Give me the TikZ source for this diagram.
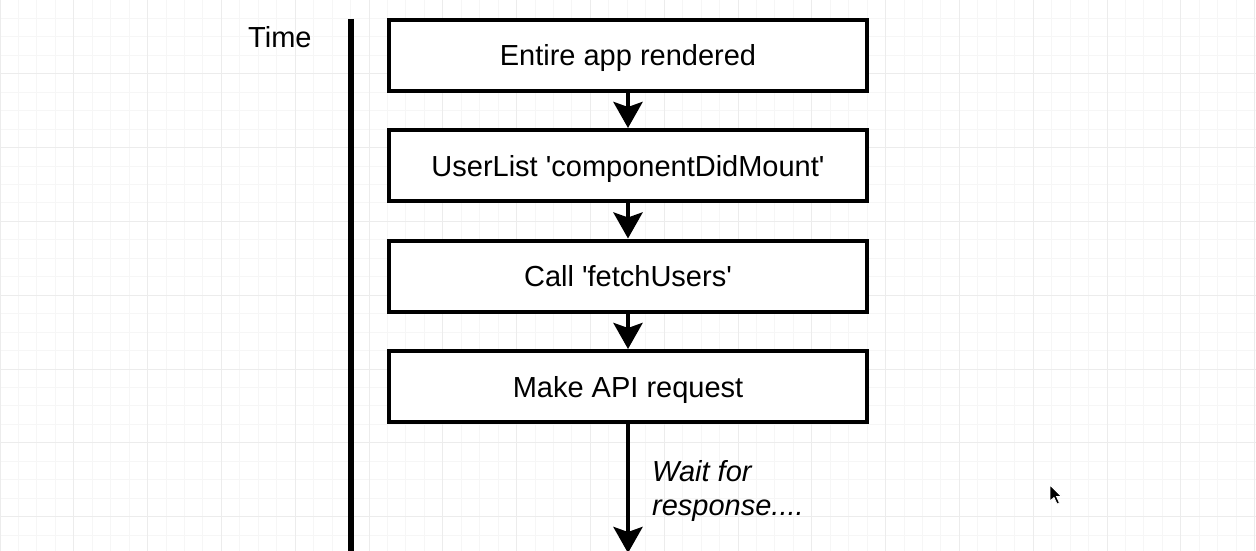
\documentclass[tikz,border=0pt]{standalone}
\usepackage{fontspec}
\setmainfont{Liberation Sans}
\usetikzlibrary{arrows.meta}
\definecolor{gmajor}{HTML}{ECECEC}
\definecolor{gminor}{HTML}{F6F6F6}
\newcommand{\sq}{\textquotesingle}
\tikzset{
  minorline/.style={draw=gminor, line width=1pt},
  majorline/.style={draw=gmajor, line width=1pt},
  stepbox/.style={draw=black, line width=4pt, fill=white, minimum width=478pt, minimum height=71pt, inner sep=0pt, text height=21pt, text depth=0pt, font=\fontsize{29}{34}\selectfont},
  flowarrow/.style={draw=black, line width=4.5pt, -{Stealth[length=26pt, width=29pt, inset=5pt]}},
  label29/.style={inner sep=0pt, font=\fontsize{29}{34}\selectfont},
}
\begin{document}
\begin{tikzpicture}[x=1pt, y=-1pt]
\useasboundingbox (0,0) rectangle (1256,551);
\fill[white] (0,0) rectangle (1256,551);
% grid
\foreach \i in {0,...,68} {\draw[minorline] ({\i*18.45},0) -- ({\i*18.45},551);}
\foreach \j in {0,...,29} {\draw[minorline] (0,{\j*18.45}) -- (1256,{\j*18.45});}
\foreach \i in {0,...,17} {\draw[majorline] ({\i*73.8},0) -- ({\i*73.8},551);}
\foreach \j in {0,...,7} {\draw[majorline] (0,{\j*73.8}) -- (1256,{\j*73.8});}
% time axis
\coordinate (axtop) at (351,19);
\coordinate (axbot) at (351,551);
\draw[line width=6pt] (axtop) -- (axbot);
\node[label29, anchor=base west] (time) at (248,48) {Time};
% boxes
\node[stepbox] (b1) at (628,55.5) {Entire app rendered};
\node[stepbox] (b2) at (628,165.5) {UserList \sq componentDidMount\sq};
\node[stepbox] (b3) at (628,276) {Call \sq fetchUsers\sq};
\node[stepbox] (b4) at (628,386.5) {Make API request};
\draw[flowarrow] (b1.south) -- (b2.north);
\draw[flowarrow] (b2.south) -- (b3.north);
\draw[flowarrow] (b3.south) -- (b4.north);
\coordinate (end) at (628,553);
\draw[flowarrow] (b4.south) -- (end);
\node[label29, anchor=base west, font=\fontsize{29}{34}\selectfont\itshape] (wait1) at (652,481) {Wait for};
\node[label29, anchor=base west, font=\fontsize{29}{34}\selectfont\itshape] (wait2) at (652,515) {response....};
% cursor
\fill[black, draw=white, line width=0.8pt] (1050,485) -- (1050,501) -- (1054,497.5) -- (1057,504) -- (1059.5,503) -- (1056.5,496.5) -- (1061.5,496.5) -- cycle;
\end{tikzpicture}
\end{document}
